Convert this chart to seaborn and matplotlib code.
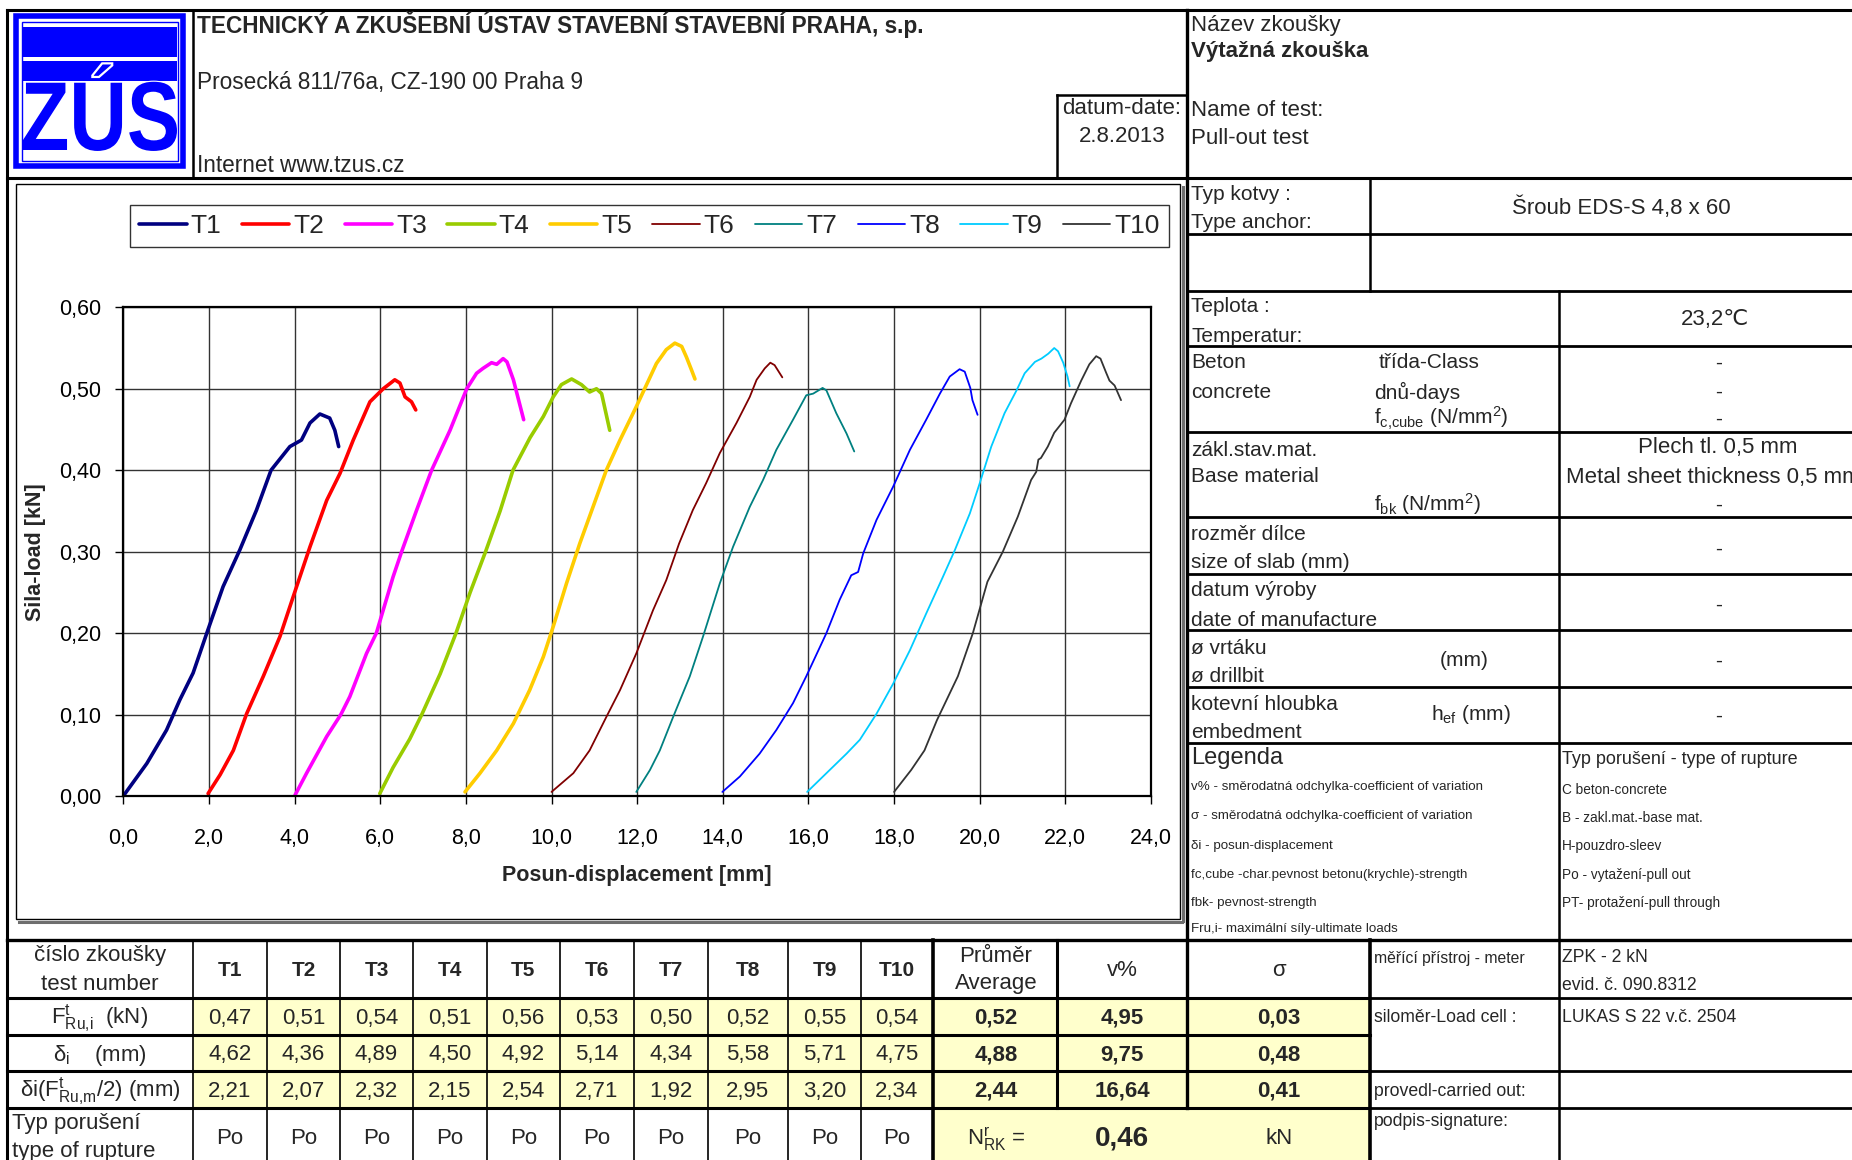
import pandas as pd
import seaborn as sns
import matplotlib.pyplot as plt
from matplotlib.patches import Rectangle, PathPatch
from matplotlib.lines import Line2D
from matplotlib.textpath import TextPath
from matplotlib.font_manager import FontProperties
from matplotlib.transforms import Affine2D
from matplotlib.ticker import FuncFormatter, MultipleLocator

# style
sns.set_style('white')
plt.rcParams['font.family'] = ['Liberation Sans', 'DejaVu Sans']
plt.rcParams['mathtext.fontset'] = 'custom'
plt.rcParams['mathtext.rm'] = 'Liberation Sans'
plt.rcParams['mathtext.it'] = 'Liberation Sans:italic'
plt.rcParams['mathtext.bf'] = 'Liberation Sans:bold'

# load-displacement curves (displacement as plotted in the chart, mm / load kN)
T1_DISP = [0.00, 0.55, 1.01, 1.32, 1.63, 1.95, 2.33, 2.72, 3.11, 3.45, 3.89, 4.16, 4.36, 4.59, 4.82, 4.94, 5.03]
T1_LOAD = [0.000, 0.040, 0.081, 0.118, 0.151, 0.200, 0.257, 0.302, 0.351, 0.400, 0.429, 0.437, 0.458, 0.469, 0.464, 0.449, 0.429]
T2_DISP = [1.98, 2.26, 2.57, 2.88, 3.27, 3.66, 3.97, 4.36, 4.75, 5.06, 5.37, 5.76, 6.07, 6.34, 6.46, 6.58, 6.73, 6.83]
T2_LOAD = [0.003, 0.026, 0.056, 0.101, 0.147, 0.196, 0.245, 0.306, 0.363, 0.396, 0.437, 0.484, 0.500, 0.511, 0.507, 0.490, 0.484, 0.474]
T3_DISP = [4.01, 4.28, 4.75, 5.08, 5.29, 5.68, 5.91, 6.30, 6.50, 6.85, 7.20, 7.63, 8.02, 8.25, 8.40, 8.60, 8.72, 8.87, 8.96, 9.11, 9.35]
T3_LOAD = [0.001, 0.028, 0.073, 0.100, 0.122, 0.175, 0.200, 0.269, 0.300, 0.351, 0.400, 0.449, 0.500, 0.519, 0.525, 0.532, 0.530, 0.537, 0.533, 0.511, 0.462]
T4_DISP = [5.99, 6.30, 6.69, 6.97, 7.40, 7.77, 8.10, 8.46, 8.80, 9.10, 9.50, 9.81, 10.04, 10.23, 10.47, 10.70, 10.89, 11.05, 11.17, 11.36]
T4_LOAD = [0.003, 0.035, 0.070, 0.100, 0.150, 0.200, 0.250, 0.300, 0.350, 0.400, 0.440, 0.466, 0.490, 0.505, 0.512, 0.505, 0.496, 0.500, 0.494, 0.449]
T5_DISP = [7.98, 8.33, 8.72, 9.11, 9.49, 9.81, 10.04, 10.35, 10.66, 10.97, 11.28, 11.60, 11.98, 12.45, 12.68, 12.88, 13.04, 13.15, 13.27, 13.35]
T5_LOAD = [0.005, 0.028, 0.056, 0.089, 0.130, 0.171, 0.208, 0.261, 0.310, 0.355, 0.400, 0.437, 0.478, 0.531, 0.548, 0.556, 0.552, 0.539, 0.523, 0.512]
T6_DISP = [10.00, 10.51, 10.89, 11.28, 11.60, 11.98, 12.37, 12.68, 12.98, 13.30, 13.61, 13.93, 14.32, 14.63, 14.79, 14.98, 15.11, 15.21, 15.33, 15.39]
T6_LOAD = [0.005, 0.028, 0.056, 0.097, 0.130, 0.175, 0.228, 0.265, 0.310, 0.351, 0.384, 0.421, 0.458, 0.490, 0.511, 0.525, 0.532, 0.529, 0.519, 0.514]
T7_DISP = [11.98, 12.30, 12.53, 12.84, 13.23, 13.54, 13.93, 14.24, 14.63, 14.94, 15.25, 15.64, 15.95, 16.11, 16.33, 16.42, 16.65, 16.89, 17.07]
T7_LOAD = [0.005, 0.032, 0.056, 0.097, 0.147, 0.196, 0.261, 0.306, 0.355, 0.388, 0.425, 0.462, 0.492, 0.494, 0.501, 0.498, 0.470, 0.445, 0.423]
T8_DISP = [13.99, 14.40, 14.86, 15.25, 15.64, 15.95, 16.42, 16.73, 17.00, 17.16, 17.28, 17.59, 17.98, 18.37, 18.75, 19.07, 19.30, 19.53, 19.65, 19.78, 19.83, 19.95]
T8_LOAD = [0.005, 0.024, 0.052, 0.081, 0.114, 0.147, 0.200, 0.241, 0.271, 0.275, 0.298, 0.339, 0.380, 0.425, 0.462, 0.494, 0.515, 0.524, 0.521, 0.501, 0.486, 0.468]
T9_DISP = [15.97, 16.42, 16.89, 17.20, 17.59, 17.98, 18.37, 18.75, 19.14, 19.42, 19.77, 20.00, 20.27, 20.58, 20.86, 21.05, 21.29, 21.44, 21.60, 21.74, 21.83, 21.95, 22.05, 22.10]
T9_LOAD = [0.005, 0.028, 0.052, 0.069, 0.101, 0.138, 0.179, 0.224, 0.269, 0.302, 0.347, 0.384, 0.429, 0.470, 0.498, 0.519, 0.533, 0.537, 0.543, 0.550, 0.546, 0.532, 0.515, 0.503]
T10_DISP = [18.00, 18.40, 18.71, 19.00, 19.49, 19.84, 20.18, 20.54, 20.89, 21.20, 21.32, 21.37, 21.43, 21.59, 21.74, 21.98, 22.13, 22.37, 22.56, 22.72, 22.82, 22.95, 23.03, 23.15, 23.30]
T10_LOAD = [0.005, 0.032, 0.056, 0.093, 0.147, 0.200, 0.263, 0.300, 0.343, 0.388, 0.398, 0.413, 0.415, 0.429, 0.446, 0.462, 0.482, 0.510, 0.530, 0.540, 0.537, 0.520, 0.510, 0.504, 0.486]

TESTS = ['T1', 'T2', 'T3', 'T4', 'T5', 'T6', 'T7', 'T8', 'T9', 'T10']

# results table
F_RU = [0.47, 0.51, 0.54, 0.51, 0.56, 0.53, 0.50, 0.52, 0.55, 0.54]
DELTA = [4.62, 4.36, 4.89, 4.50, 4.92, 5.14, 4.34, 5.58, 5.71, 4.75]
DELTA_HALF = [2.21, 2.07, 2.32, 2.15, 2.54, 2.71, 1.92, 2.95, 3.20, 2.34]
RUPTURE = ['Po', 'Po', 'Po', 'Po', 'Po', 'Po', 'Po', 'Po', 'Po', 'Po']
AVERAGE = [0.52, 4.88, 2.44]
V_PCT = [4.95, 9.75, 16.64]
SIGMA = [0.03, 0.48, 0.41]
N_RK = 0.46

COLORS = ['#000080', '#FF0000', '#FF00FF', '#99CC00', '#FFCC00',
          '#800000', '#008080', '#0000FF', '#00CCFF', '#333333']
WIDTHS = [2.6, 2.6, 2.6, 2.6, 2.6, 1.3, 1.3, 1.3, 1.3, 1.3]

DISPS = [T1_DISP, T2_DISP, T3_DISP, T4_DISP, T5_DISP, T6_DISP, T7_DISP, T8_DISP, T9_DISP, T10_DISP]
LOADS = [T1_LOAD, T2_LOAD, T3_LOAD, T4_LOAD, T5_LOAD, T6_LOAD, T7_LOAD, T8_LOAD, T9_LOAD, T10_LOAD]
df = pd.concat([pd.DataFrame({'test': t, 'disp': d, 'load': l})
                for t, d, l in zip(TESTS, DISPS, LOADS)], ignore_index=True)


def cz(v, n=2):
    return f'{v:.{n}f}'.replace('.', ',')


W, H = 1852, 1160
fig = plt.figure(figsize=(W / 100, H / 100), dpi=100)
page = fig.add_axes([0, 0, 1, 1])
page.set_xlim(0, W)
page.set_ylim(H, 0)
page.axis('off')


def hl(y, x0, x1, lw=1.2, c='black'):
    page.plot([x0, x1], [y, y], color=c, lw=lw, solid_capstyle='projecting')


def vl(x, y0, y1, lw=1.2, c='black'):
    page.plot([x, x], [y0, y1], color=c, lw=lw, solid_capstyle='projecting')


def put(x, y, s, size=15, ha='left', va='center', weight='normal', **kw):
    page.text(x, y + 2, s, fontsize=size, ha=ha, va=va, weight=weight, **kw)


# ---- header ----
hl(9.5, 7, W, lw=2.2)
hl(178, 7, W, lw=2.2)
vl(7, 9.5, H, lw=2.2)
vl(192.5, 9.5, 178, lw=1.8)
vl(1187, 9.5, 1108, lw=2.4)
vl(1057, 94.5, 178, lw=1.8)
hl(94.5, 1057, 1187, lw=1.8)

# logo
blue = '#0000FF'
page.add_patch(Rectangle((16, 16), 167, 150, fill=False, ec=blue, lw=4))
page.add_patch(Rectangle((21.5, 21.5), 156, 139, fill=False, ec=blue, lw=1))
page.add_patch(Rectangle((23, 27), 154, 30, color=blue, lw=0))
bar2 = Rectangle((23, 61), 154, 20, color=blue, lw=0)
page.add_patch(bar2)
tp = TextPath((0, 0), 'ZÚS', size=1, prop=FontProperties(family='Liberation Sans', weight='bold'))
bb = tp.get_extents()
sx = 154 / bb.width
sy = 70 / 0.716
logo_tr = Affine2D().translate(-bb.x0, 0).scale(sx, -sy).translate(23, 150) + page.transData
page.add_patch(PathPatch(tp, transform=logo_tr, color=blue, lw=0))
accent = PathPatch(tp, transform=logo_tr, fc='none', ec='white', lw=1.6)
page.add_patch(accent)
accent.set_clip_path(bar2)

put(197, 22, 'TECHNICKÝ A ZKUŠEBNÍ ÚSTAV STAVEBNÍ STAVEBNÍ PRAHA, s.p.', 16.3, weight='bold')
put(197, 80, 'Prosecká 811/76a, CZ-190 00 Praha 9', 16.3)
put(197, 163, 'Internet www.tzus.cz', 16.3)
put(1122, 107, 'datum-date:', 16, ha='center')
put(1122, 135, '2.8.2013', 16, ha='center')

put(1191, 24, 'Název zkoušky', 16)
put(1191, 50, 'Výtažná zkouška', 16, weight='bold')
put(1191, 109, 'Name of test:', 16)
put(1191, 136, 'Pull-out test', 16)

# ---- right column ----
for y in [233.8, 290.5, 346, 432.2, 517.3, 574, 629.5, 687.3, 742.8]:
    hl(y, 1187, W, lw=2.0)
vl(1370, 178, 290.5, lw=1.8)
vl(1559, 290.5, H, lw=1.8)

put(1191, 192.5, 'Typ kotvy :', 15)
put(1191, 221, 'Type anchor:', 15)
put(1621, 206, 'Šroub EDS-S 4,8 x 60', 16, ha='center')
put(1191, 305, 'Teplota :', 15)
put(1191, 334, 'Temperatur:', 15)
put(1715, 318, '23,2\u2103', 16, ha='center')
put(1191, 361, 'Beton', 15)
put(1379, 361, 'třída-Class', 15)
put(1191, 390, 'concrete', 15)
put(1374, 390, 'dnů-days', 15)
put(1374, 416, r'f$_{\rm c{,}cube}$ (N/mm$^{\rm 2}$)', 15)
for y in [361, 390, 417]:
    put(1719, y, '-', 15, ha='center')
put(1191, 448, 'zákl.stav.mat.', 15)
put(1191, 475, 'Base material', 15)
put(1374, 502, r'f$_{\rm bk}$ (N/mm$^{\rm 2}$)', 15)
put(1718, 446, 'Plech tl. 0,5 mm', 16, ha='center')
put(1566, 475, 'Metal sheet thickness 0,5 mm', 16)
put(1719, 503, '-', 15, ha='center')
put(1191, 533, 'rozměr dílce', 15)
put(1191, 561, 'size of slab (mm)', 15)
put(1719, 547, '-', 15, ha='center')
put(1191, 589, 'datum výroby', 15)
put(1191, 618, 'date of manufacture', 15)
put(1719, 603, '-', 15, ha='center')
put(1191, 646, 'ø vrtáku', 15)
put(1191, 674, 'ø drillbit', 15)
put(1464, 658, '(mm)', 15, ha='center')
put(1719, 659, '-', 15, ha='center')
put(1191, 702, 'kotevní hloubka', 15)
put(1191, 730, 'embedment', 15)
put(1431, 713, r'h$_{\rm ef}$ (mm)', 15)
put(1719, 714, '-', 15, ha='center')

put(1191, 756, 'Legenda', 17)
legend_items = ['v% - směrodatná odchylka-coefficient of variation',
                'σ - směrodatná odchylka-coefficient of variation',
                'δi - posun-displacement',
                'fc,cube -char.pevnost betonu(krychle)-strength',
                'fbk- pevnost-strength',
                'Fru,i- maximální síly-ultimate loads']
for y, s in zip([785, 814, 844, 873, 901, 927], legend_items):
    put(1191, y, s, 9.6)
put(1562, 757, 'Typ porušení - type of rupture', 13)
rupture_items = ['C beton-concrete', 'B - zakl.mat.-base mat.', 'H-pouzdro-sleev',
                 'Po - vytažení-pull out', 'PT- protažení-pull through']
for y, s in zip([788, 816, 844, 873, 901], rupture_items):
    put(1562, y, s, 9.8)

put(1374, 956, 'měřící přístroj - meter', 11.3)
put(1562, 956, 'ZPK - 2 kN', 12.7)
put(1562, 983, 'evid. č. 090.8312', 12.7)
put(1374, 1016, 'siloměr-Load cell :', 12.7)
put(1562, 1016, 'LUKAS S 22 v.č. 2504', 12.7)
put(1374, 1090, 'provedl-carried out:', 12.7)
put(1374, 1119, 'podpis-signature:', 12.7)

# ---- bottom results table ----
COLS = [7, 192.5, 267, 340, 413, 486.5, 560, 634, 707.5, 788, 861, 933]
ROWS = [940, 998, 1034.6, 1071, 1108, H]
yellow = '#FFFFCC'
for r in range(1, 4):
    page.add_patch(Rectangle((192.5, ROWS[r]), 933 - 192.5, ROWS[r + 1] - ROWS[r], color=yellow, lw=0))
    page.add_patch(Rectangle((933, ROWS[r]), 1370 - 933, ROWS[r + 1] - ROWS[r], color=yellow, lw=0))
page.add_patch(Rectangle((933, 1108), 1370 - 933, H - 1108, color=yellow, lw=0))

hl(940, 7, W, lw=2.4)
for y in [998, 1034.6]:
    hl(y, 7, 1370, lw=2.2)
hl(998, 1370, W, lw=2.0)
for y in [1071, 1108]:
    hl(y, 7, 1370, lw=2.2)
    hl(y, 1370, W, lw=2.0)
for x in COLS[1:-1]:
    vl(x, 940, H, lw=1.2)
vl(933, 940, H, lw=2.6)
vl(1057, 940, 1108, lw=2.2)
vl(1370, 940, H, lw=2.6)

put(100, 954, 'číslo zkoušky', 16, ha='center')
put(100, 982, 'test number', 16, ha='center')
put(100, 1016, r'F$^{\rm t}_{\rm Ru{,}i}$  (kN)', 16, ha='center')
put(100, 1053, r'δ$_{\rm i}$    (mm)', 16, ha='center')
put(100, 1089, r'δi(F$^{\rm t}_{\rm Ru{,}m}$/2) (mm)', 16, ha='center')
put(12, 1121, 'Typ porušení', 16)
put(12, 1149, 'type of rupture', 16)

centers = [(COLS[i] + COLS[i + 1]) / 2 for i in range(1, 11)]
row_mid = [(ROWS[i] + ROWS[i + 1]) / 2 for i in range(5)]
for i, cx in enumerate(centers):
    put(cx, row_mid[0], TESTS[i], 15, ha='center', weight='bold')
    put(cx, row_mid[1], cz(F_RU[i]), 16, ha='center')
    put(cx, row_mid[2], cz(DELTA[i]), 16, ha='center')
    put(cx, row_mid[3], cz(DELTA_HALF[i]), 16, ha='center')
    put(cx, row_mid[4] + 2, RUPTURE[i], 16, ha='center')

put(996, 954, 'Průměr', 16, ha='center')
put(996, 982, 'Average', 16, ha='center')
put(1122, 968, 'v%', 16, ha='center')
put(1279, 968, 'σ', 16, ha='center')
for r in range(3):
    put(996, row_mid[r + 1], cz(AVERAGE[r]), 16, ha='center', weight='bold')
    put(1122, row_mid[r + 1], cz(V_PCT[r]), 16, ha='center', weight='bold')
    put(1279, row_mid[r + 1], cz(SIGMA[r]), 16, ha='center', weight='bold')
put(996, 1137, r'N$^{\rm r}_{\rm RK}$ =', 16, ha='center')
put(1122, 1137, cz(N_RK), 20, ha='center', weight='bold')
put(1279, 1137, 'kN', 16, ha='center')

# ---- chart frame ----
page.add_patch(Rectangle((16, 184), 1164, 735, fill=False, ec='black', lw=1.0))
hl(921.5, 19, 1182, lw=2.2, c='#6e6e6e')
vl(1182.5, 187, 921, lw=2.2, c='#6e6e6e')

# ---- chart ----
ax = fig.add_axes([123.3 / W, 1 - 796 / H, (1151 - 123.3) / W, (796 - 307.3) / H])
sns.lineplot(data=df, x='disp', y='load', hue='test', size='test',
             palette=dict(zip(TESTS, COLORS)), sizes=dict(zip(TESTS, WIDTHS)),
             estimator=None, sort=False, legend=False, ax=ax)
ax.set_xlim(0, 24)
ax.set_ylim(0, 0.6)
ax.xaxis.set_major_locator(MultipleLocator(2))
ax.yaxis.set_major_locator(MultipleLocator(0.1))
ax.xaxis.set_major_formatter(FuncFormatter(lambda v, p: cz(v, 1)))
ax.yaxis.set_major_formatter(FuncFormatter(lambda v, p: cz(v, 2)))
ax.set_axisbelow(True)
ax.grid(True, color='#333333', lw=1.0)
ax.tick_params(bottom=True, left=True, direction='out', length=6, width=1,
               labelsize=15.5, colors='black')
ax.tick_params(axis='x', pad=17)
ax.tick_params(axis='y', pad=10)
for s in ax.spines.values():
    s.set_color('black')
    s.set_linewidth(1.6)
ax.set_xlabel('Posun-displacement [mm]', fontsize=15.5, weight='bold')
ax.set_ylabel('Sila-load [kN]', fontsize=15.5, weight='bold')
ax.xaxis.set_label_coords(0.5, -0.162)
ax.xaxis.label.set_va('center')
ax.yaxis.set_label_coords(-0.0855, 0.5)
ax.yaxis.label.set_va('center')

handles = [Line2D([], [], color=c, lw=w) for c, w in zip(COLORS, WIDTHS)]
leg = ax.legend(handles, TESTS, ncol=10, loc='center', mode='expand',
                bbox_to_anchor=(130 / W, 1 - 249 / H, (1169 - 130) / W, 46 / H),
                bbox_transform=fig.transFigure, borderaxespad=0, frameon=True,
                fancybox=False, edgecolor='black', fontsize=19, handlelength=1.8,
                handletextpad=0.15, columnspacing=0.4, borderpad=0.35)
leg.get_frame().set_linewidth(1.0)

fig.savefig('out.png', dpi=100)
